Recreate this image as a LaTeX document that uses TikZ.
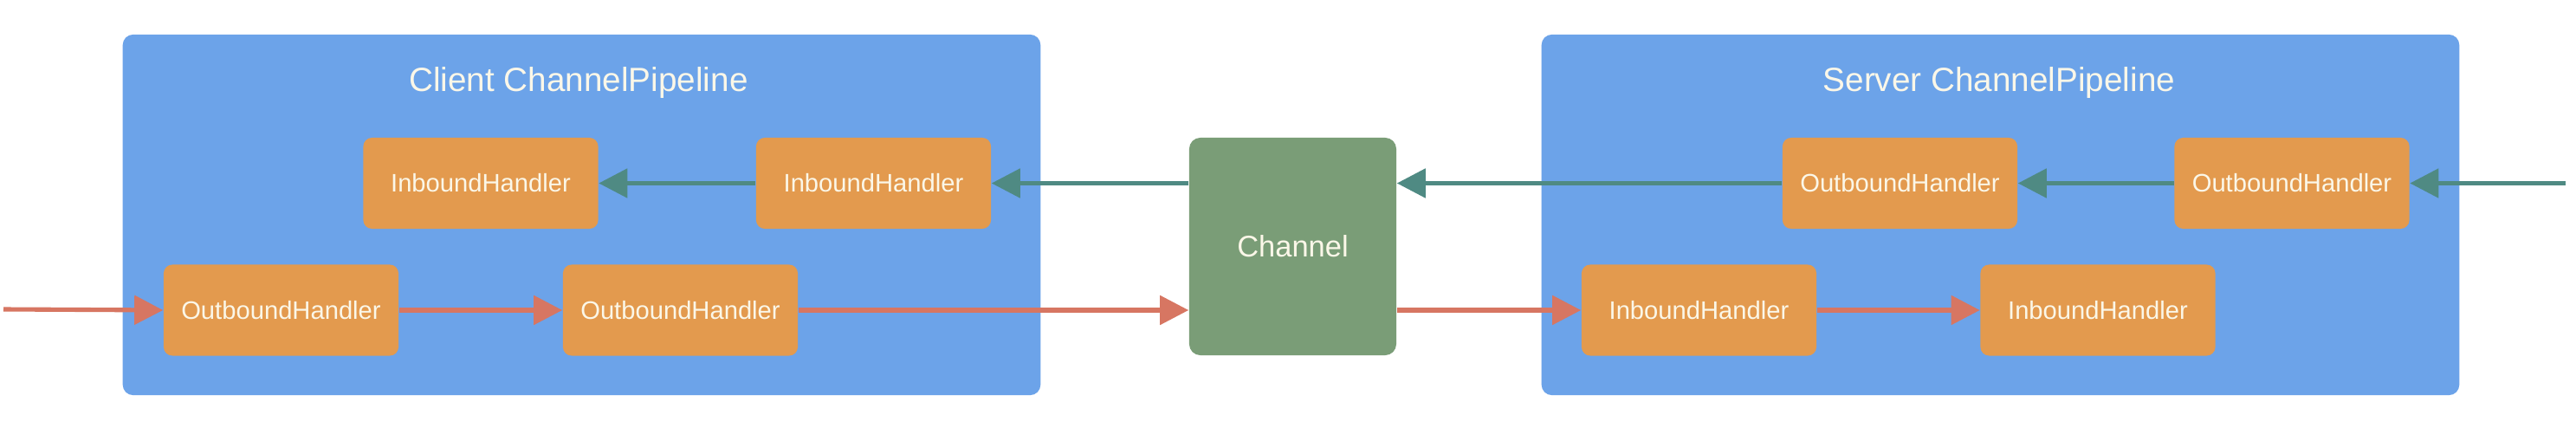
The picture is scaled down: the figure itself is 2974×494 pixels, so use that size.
\documentclass[tikz,border=0pt]{standalone}
\usepackage{fontspec}
\setmainfont{Liberation Sans}
\usetikzlibrary{arrows.meta}
\definecolor{pipeblue}{HTML}{6CA3E9}
\definecolor{handorange}{HTML}{E39A4E}
\definecolor{changreen}{HTML}{7A9D77}
\definecolor{tealarrow}{HTML}{4F8A83}
\definecolor{redarrow}{HTML}{D77662}
\definecolor{txtcream}{HTML}{FBF7E8}
\tikzset{
  pipebox/.style={fill=pipeblue, draw=none, rounded corners=0.12cm, minimum width=10.59cm, minimum height=4.16cm, inner sep=0pt},
  pipetitle/.style={text=txtcream, font=\fontsize{11}{13}\selectfont, inner sep=0pt},
  handbox/.style={fill=handorange, draw=none, rounded corners=0.1cm, minimum width=2.71cm, minimum height=1.05cm, inner sep=0pt, text=txtcream, font=\fontsize{8.3}{10}\selectfont},
  chanbox/.style={fill=changreen, draw=none, rounded corners=0.13cm, minimum width=2.39cm, minimum height=2.51cm, inner sep=0pt, text=txtcream, font=\fontsize{9.8}{12}\selectfont},
  tealflow/.style={draw=tealarrow, line width=1.45pt, -{Triangle[length=9.4pt, width=9.4pt]}},
  redflow/.style={draw=redarrow, line width=1.45pt, -{Triangle[length=9.4pt, width=9.4pt]}},
}
\begin{document}
\begin{tikzpicture}[x=0.01cm, y=-0.01cm]
\useasboundingbox[fill=white] (0,0) rectangle (2974,494);
% pipelines
\node[pipebox] (client) at (671.5,248) {};
\node[pipebox] (server) at (2309.5,248) {};
\node[pipetitle] (ctitle) at (668,95) {Client ChannelPipeline};
\node[pipetitle] (stitle) at (2308,95) {Server ChannelPipeline};
% client handlers
\node[handbox] (cin1) at (555,211.5) {InboundHandler};
\node[handbox] (cin2) at (1008.5,211.5) {InboundHandler};
\node[handbox] (cout1) at (324.5,358) {OutboundHandler};
\node[handbox] (cout2) at (785.5,358) {OutboundHandler};
% channel
\node[chanbox] (chan) at (1492.5,284.5) {Channel};
% server handlers
\node[handbox] (sout1) at (2193.5,211.5) {OutboundHandler};
\node[handbox] (sout2) at (2646,211.5) {OutboundHandler};
\node[handbox] (sin1) at (1961.5,358) {InboundHandler};
\node[handbox] (sin2) at (2422,358) {InboundHandler};
% free ends
\coordinate (redin) at (4,357);
\coordinate (tealin) at (2962,211.5);
% teal flow (right to left)
\draw[tealflow] (tealin) -- (sout2.east);
\draw[tealflow] (sout2.west) -- (sout1.east);
\draw[tealflow] (sout1.west) -- (chan.east |- sout1.west);
\draw[tealflow] (chan.west |- cin2.east) -- (cin2.east);
\draw[tealflow] (cin2.west) -- (cin1.east);
% red flow (left to right)
\draw[redflow] (redin) -- (cout1.west);
\draw[redflow] (cout1.east) -- (cout2.west);
\draw[redflow] (cout2.east) -- (chan.west |- cout2.east);
\draw[redflow] (chan.east |- sin1.west) -- (sin1.west);
\draw[redflow] (sin1.east) -- (sin2.west);
\end{tikzpicture}
\end{document}
